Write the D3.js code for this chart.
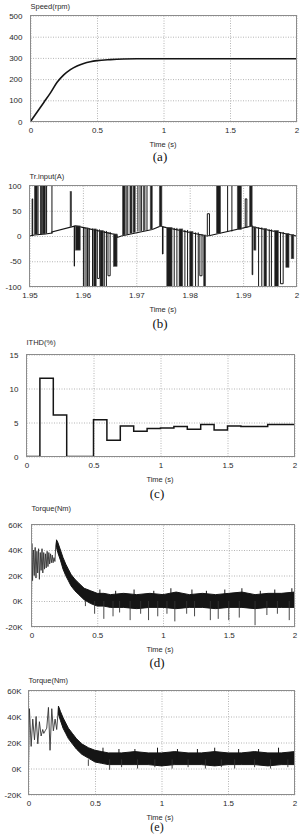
<!DOCTYPE html>
<html>
<head>
<meta charset="utf-8">
<script src="https://cdn.jsdelivr.net/npm/d3@7"></script>
<style>
body { margin: 0; background: #fff; }
svg text { font-family: "Liberation Sans", Arial, sans-serif; }
</style>
</head>
<body>
<svg id="fig" width="301" height="835"></svg>
<script>
// ---- (a) speed ----
var speedTime = [0, 0.05, 0.1, 0.15, 0.2, 0.25, 0.3, 0.35, 0.4, 0.45, 0.5, 0.6, 0.7, 0.8, 1.0, 1.5, 2.0];
var speedRpm = [0, 45, 90, 135, 185, 220, 245, 262, 274, 282, 287, 292, 295, 296, 296, 296, 296];

// ---- (b) transformer input current, 1.95 - 2 s ----
// base trace [t, A]
var trBase = [[1.9500, 0], [1.9509, 2], [1.9530, 4], [1.9542, 6], [1.9542, 8], [1.9586, 20], [1.9595, 18],
    [1.9664, 2], [1.9664, -3], [1.9672, 0], [1.9730, 13], [1.9746, 20], [1.9750, 18], [1.9832, 0],
    [1.9838, 1], [1.9917, 20], [1.9918, 18], [2.0000, 0]];
// single switching pulses [t0, t1, base, tip]
var trPulses = [[1.9505, 1.9506, 0, 70], [1.9516, 1.9521, 3, 100], [1.9522, 1.9524, 4, 100], [1.9532, 1.9542, 5, 100],
    [1.9584, 1.9584, 20, -57], [1.9601, 1.9604, 17, -100], [1.9612, 1.9618, 15, -100], [1.9627, 1.9631, 13, -80],
    [1.9640, 1.9644, 10, -100], [1.9647, 1.9651, 8, -75], [1.9681, 1.9684, 3, 100], [1.9703, 1.9707, 9, 100],
    [1.9710, 1.9714, 10, 100], [1.9716, 1.9720, 11, 100], [1.9749, 1.9750, 19, -34], [1.9771, 1.9776, 16, -100],
    [1.9791, 1.9796, 12, -100], [1.9811, 1.9816, 7, -100], [1.9819, 1.9823, 4, -75], [1.9833, 1.9837, 1, 42],
    [1.9871, 1.9879, 9, 100], [1.9904, 1.9907, 16, 70], [1.9917, 1.9918, 20, -73], [1.9929, 1.9935, 17, -100],
    [1.9949, 1.9953, 13, -100], [1.9970, 1.9975, 8, -90]];
// dense bursts of pulses [t0, t1, base, tip]
var trBursts = [[1.9509, 1.9515, 3, 100], [1.9525, 1.9530, 4, 100], [1.9576, 1.9579, 18, 88], [1.9586, 1.9595, 20, -28],
    [1.9607, 1.9610, 16, -100], [1.9620, 1.9625, 14, -100], [1.9632, 1.9638, 11, -100], [1.9657, 1.9664, 4, -60],
    [1.9674, 1.9679, 2, 100], [1.9688, 1.9692, 5, 100], [1.9694, 1.9698, 7, 100], [1.9726, 1.9730, 13, 100],
    [1.9743, 1.9748, 19, 100], [1.9757, 1.9767, 17, -100], [1.9780, 1.9787, 14, -100], [1.9800, 1.9806, 9, -100],
    [1.9826, 1.9830, 2, -100], [1.9850, 1.9858, 5, 100], [1.9889, 1.9897, 13, 100], [1.9912, 1.9917, 19, 100],
    [1.9920, 1.9924, 18, -28], [1.9939, 1.9944, 15, -100], [1.9959, 1.9966, 11, -100], [1.9980, 1.9986, 5, -62],
    [1.9990, 1.9995, 3, -45]];

// ---- (c) ITHD steps ----
var ithdTime = [0, 0.1, 0.2, 0.3, 0.5, 0.6, 0.7, 0.8, 0.9, 1.0, 1.1, 1.2, 1.3, 1.4, 1.5, 1.6, 1.8, 2.0];
var ithdVal = [0, 11.5, 6.1, 0, 5.4, 2.4, 4.5, 3.7, 4.1, 4.2, 4.4, 4.0, 4.7, 3.9, 4.5, 4.4, 4.7, 4.7];

// ---- (d) torque, values in K Nm ----
var dStart = [[0, 0], [0.003, 45], [0.008, 16], [0.015, 40], [0.021, 20], [0.028, 42], [0.034, 18], [0.041, 39],
    [0.047, 22], [0.054, 41], [0.06, 17], [0.067, 38], [0.073, 24], [0.08, 41], [0.086, 22], [0.093, 38],
    [0.099, 25], [0.106, 37], [0.112, 26], [0.119, 39], [0.125, 27], [0.132, 38], [0.138, 29], [0.145, 37],
    [0.151, 30], [0.158, 36], [0.164, 30], [0.171, 34], [0.178, 31], [0.185, 44], [0.19, 47]];
// noise band [t, upper, lower]
var dBand = [[0.19, 48, 42], [0.2, 46, 38], [0.22, 40, 32], [0.24, 34, 25], [0.26, 29, 20], [0.28, 25, 16],
    [0.3, 21, 12], [0.33, 17, 8], [0.36, 14, 5], [0.4, 10, 1], [0.45, 8, -2], [0.5, 6, -4], [0.55, 6, -4],
    [0.6, 5, -5], [0.7, 6, -5], [0.8, 5, -6], [0.9, 6, -5], [1.0, 5, -5], [1.1, 7, -6], [1.2, 5, -5],
    [1.3, 6, -5], [1.4, 5, -6], [1.5, 6, -5], [1.6, 7, -5], [1.7, 5, -6], [1.8, 6, -5], [1.9, 6, -5], [2.0, 7, -5]];
var dSpikes = [[0.41, -4], [0.48, -10], [0.55, -14], [0.62, -12], [0.67, -9], [0.75, -15], [0.83, -10],
    [0.89, -15], [0.96, -12], [1.03, -10], [1.09, -16], [1.18, -10], [1.24, -12], [1.36, -15], [1.42, -14],
    [1.5, -15], [1.58, -13], [1.7, -19], [1.79, -11], [1.87, -10], [1.96, -15]];
var dPeaks = [[0.52, 9], [0.64, 8], [0.78, 9], [0.93, 8], [1.06, 10], [1.22, 9], [1.33, 8], [1.47, 9],
    [1.6, 10], [1.74, 8], [1.85, 9], [1.98, 10]];

// ---- (e) torque, values in K Nm ----
var eStart = [[0, 0], [0.007, 46], [0.02, 17], [0.032, 38], [0.045, 22], [0.057, 40], [0.07, 19], [0.082, 36],
    [0.095, 25], [0.107, 30], [0.115, 27], [0.125, 29], [0.137, 31], [0.15, 47], [0.162, 14], [0.175, 46],
    [0.187, 29], [0.2, 38], [0.212, 30], [0.225, 47]];
var eBand = [[0.225, 48, 42], [0.24, 44, 37], [0.26, 39, 31], [0.28, 35, 27], [0.3, 31, 23], [0.33, 27, 19],
    [0.36, 23, 15], [0.4, 19, 11], [0.45, 16, 8], [0.5, 14, 5], [0.55, 13, 4], [0.6, 12, 3], [0.7, 12, 3],
    [0.8, 13, 3], [0.9, 12, 3], [1.0, 12, 2], [1.1, 13, 3], [1.2, 12, 3], [1.3, 12, 3], [1.4, 13, 2],
    [1.5, 12, 3], [1.6, 12, 3], [1.7, 13, 3], [1.8, 12, 2], [1.9, 12, 3], [2.0, 13, 3]];
var eSpikes = [[0.45, 2], [0.61, -1], [0.7, 1], [0.82, 0], [0.95, 1], [1.08, 0], [1.2, 1], [1.33, 0],
    [1.45, 1], [1.55, 0], [1.7, 1], [1.82, 0], [1.95, 1]];
var ePeaks = [[0.56, 16], [0.68, 15], [0.8, 15], [0.97, 16], [1.12, 15], [1.27, 15], [1.4, 16], [1.58, 15],
    [1.73, 15], [1.88, 16]];

// ticks
var timeTicks = [0, 0.5, 1, 1.5, 2];
var timeLabels = ["0", "0.5", "1", "1.5", "2"];
var trTicks = [1.95, 1.96, 1.97, 1.98, 1.99, 2.0];
var trTickLabels = ["1.95", "1.96", "1.97", "1.98", "1.99", "2"];
var speedTicks = [0, 100, 200, 300, 400, 500];
var currTicks = [-100, -50, 0, 50, 100];
var ithdTicks = [0, 5, 10, 15];
var torqueTicks = [-20, 0, 20, 40, 60];
var torqueLabels = ["-20K", "0K", "20K", "40K", "60K"];

var svg = d3.select("#fig");
var ink = "#151515";

function panel(p) {
    var g = svg.append("g");
    var x = d3.scaleLinear().domain(p.xd).range([p.x0, p.x1]);
    var y = d3.scaleLinear().domain(p.yd).range([p.y1, p.y0]);
    var h = p.y1 - p.y0, w = p.x1 - p.x0;

    svg.append("clipPath").attr("id", "clip" + p.id)
        .append("rect").attr("x", p.x0).attr("y", p.y0).attr("width", w).attr("height", h);

    var ax = g.append("g").attr("transform", "translate(0," + p.y1 + ")")
        .call(d3.axisBottom(x).tickValues(p.xt).tickSize(-h).tickPadding(6)
            .tickFormat(function(d, i) { return p.xl[i]; }));
    var ay = g.append("g").attr("transform", "translate(" + p.x0 + ",0)")
        .call(d3.axisLeft(y).tickValues(p.yt).tickSize(-w).tickPadding(p.ypad || 8)
            .tickFormat(function(d, i) { return p.yl ? p.yl[i] : d; }));
    [ax, ay].forEach(function(a) {
        a.select(".domain").remove();
        a.selectAll("line").attr("stroke", "#b5b5b5").attr("stroke-dasharray", "1,1.5");
        a.selectAll("text").attr("font-size", 8).attr("fill", "#2a2a2a")
            .attr("font-family", "Liberation Sans, Arial, sans-serif");
    });

    g.append("text").attr("x", p.x0).attr("y", p.ty).attr("font-size", 7.5).attr("fill", "#2a2a2a")
        .text(p.title);
    g.append("text").attr("x", p.lx).attr("y", p.y1 + 25).attr("text-anchor", "middle")
        .attr("font-size", 7.5).attr("fill", "#2a2a2a").text("Time (s)");
    g.append("text").attr("x", p.lx - 3).attr("y", p.cy).attr("text-anchor", "middle")
        .attr("font-size", p.cs || 13).attr("fill", "#111")
        .style("font-family", "Liberation Serif, Times New Roman, serif").text(p.cap);

    var data = g.append("g").attr("clip-path", "url(#clip" + p.id + ")");
    g.append("rect").attr("x", p.x0).attr("y", p.y0).attr("width", w).attr("height", h)
        .attr("fill", "none").attr("stroke", "#8c8c8c").attr("stroke-width", 1);
    return { g: data, x: x, y: y };
}

// (a)
var pa = panel({ id: "a", x0: 30.5, x1: 296.5, y0: 15.5, y1: 121.5, xd: [0, 2], yd: [0, 500],
    xt: timeTicks, xl: timeLabels, yt: speedTicks, title: "Speed(rpm)", ty: 9, lx: 163, cy: 161, cap: "(a)" });
pa.g.append("path")
    .datum(speedTime.map(function(t, i) { return [t, speedRpm[i]]; }))
    .attr("fill", "none").attr("stroke", ink).attr("stroke-width", 1.6)
    .attr("d", d3.line().x(function(d) { return pa.x(d[0]); }).y(function(d) { return pa.y(d[1]); })
        .curve(d3.curveMonotoneX));

// (b)
var pb = panel({ id: "b", x0: 29.5, x1: 296.5, y0: 185.5, y1: 286.5, xd: [1.95, 2.0], yd: [-100, 100],
    xt: trTicks, xl: trTickLabels, yt: currTicks, title: "Tr.input(A)", ty: 179, lx: 163, cy: 328, cap: "(b)" });
pb.g.append("path").datum(trBase)
    .attr("fill", "none").attr("stroke", ink).attr("stroke-width", 1.1)
    .attr("d", d3.line().x(function(d) { return pb.x(d[0]); }).y(function(d) { return pb.y(d[1]); }));
pb.g.selectAll(".pulse").data(trPulses).enter().append("path")
    .attr("class", "pulse").attr("fill", "none").attr("stroke", ink).attr("stroke-width", 1)
    .attr("d", function(d) {
        var a = pb.x(d[0]), b = pb.x(d[1]) + 0.01;
        return "M" + a + "," + pb.y(d[2]) + "V" + pb.y(d[3] * 1.05) + "H" + b + "V" + pb.y(d[2]);
    });
pb.g.selectAll(".burst").data(trBursts).enter().append("rect")
    .attr("class", "burst").attr("fill", "#1c1c1c").attr("stroke", "#555").attr("stroke-width", 0.6)
    .attr("x", function(d) { return pb.x(d[0]); })
    .attr("width", function(d) { return pb.x(d[1]) - pb.x(d[0]); })
    .attr("y", function(d) { return Math.min(pb.y(d[2]), pb.y(d[3])); })
    .attr("height", function(d) { return Math.abs(pb.y(d[3]) - pb.y(d[2])); });

// (c)
var pc = panel({ id: "c", x0: 26.5, x1: 294.5, y0: 354.5, y1: 456.5, xd: [0, 2], yd: [0, 15],
    xt: timeTicks, xl: timeLabels, yt: ithdTicks, title: "ITHD(%)", ty: 345, lx: 160, cy: 498, cap: "(c)" });
pc.g.append("path")
    .datum(ithdTime.map(function(t, i) { return [t, ithdVal[i]]; }))
    .attr("fill", "none").attr("stroke", ink).attr("stroke-width", 1.5)
    .attr("d", d3.line().x(function(d) { return pc.x(d[0]); }).y(function(d) { return pc.y(d[1]); })
        .curve(d3.curveStepAfter));

// torque panels
function torque(p, start, band, spikes, spikeBase, peaks, peakBase) {
    var line = d3.line().x(function(d) { return p.x(d[0]); }).y(function(d) { return p.y(d[1]); });
    p.g.append("path").datum(start).attr("fill", "none").attr("stroke", "#333").attr("stroke-width", 0.9)
        .attr("d", line);
    p.g.append("path").datum(band).attr("fill", ink).attr("stroke", ink).attr("stroke-width", 1)
        .attr("d", d3.area().x(function(d) { return p.x(d[0]); })
            .y0(function(d) { return p.y(d[2]); }).y1(function(d) { return p.y(d[1]); }));
    p.g.selectAll(".spk").data(spikes).enter().append("line").attr("class", "spk")
        .attr("x1", function(d) { return p.x(d[0]); }).attr("x2", function(d) { return p.x(d[0]); })
        .attr("y1", p.y(spikeBase)).attr("y2", function(d) { return p.y(d[1]); })
        .attr("stroke", "#333").attr("stroke-width", 0.9);
    p.g.selectAll(".pk").data(peaks).enter().append("line").attr("class", "pk")
        .attr("x1", function(d) { return p.x(d[0]); }).attr("x2", function(d) { return p.x(d[0]); })
        .attr("y1", p.y(peakBase)).attr("y2", function(d) { return p.y(d[1]); })
        .attr("stroke", ink).attr("stroke-width", 1);
}

var pd = panel({ id: "d", x0: 31.5, x1: 294.5, y0: 524.5, y1: 626.5, xd: [0, 2], yd: [-20, 60],
    xt: timeTicks, xl: timeLabels, yt: torqueTicks, yl: torqueLabels, ypad: 9,
    title: "Torque(Nm)", ty: 511, lx: 160, cy: 667, cap: "(d)" });
torque(pd, dStart, dBand, dSpikes, 0, dPeaks, 0);

var pe = panel({ id: "e", x0: 28.5, x1: 294.5, y0: 690.5, y1: 794.5, xd: [0, 2], yd: [-20, 60],
    xt: timeTicks, xl: timeLabels, yt: torqueTicks, yl: torqueLabels, ypad: 7,
    title: "Torque(Nm)", ty: 683, lx: 160, cy: 831, cs: 12, cap: "(e)" });
torque(pe, eStart, eBand, eSpikes, 7, ePeaks, 7);
</script>
</body>
</html>
